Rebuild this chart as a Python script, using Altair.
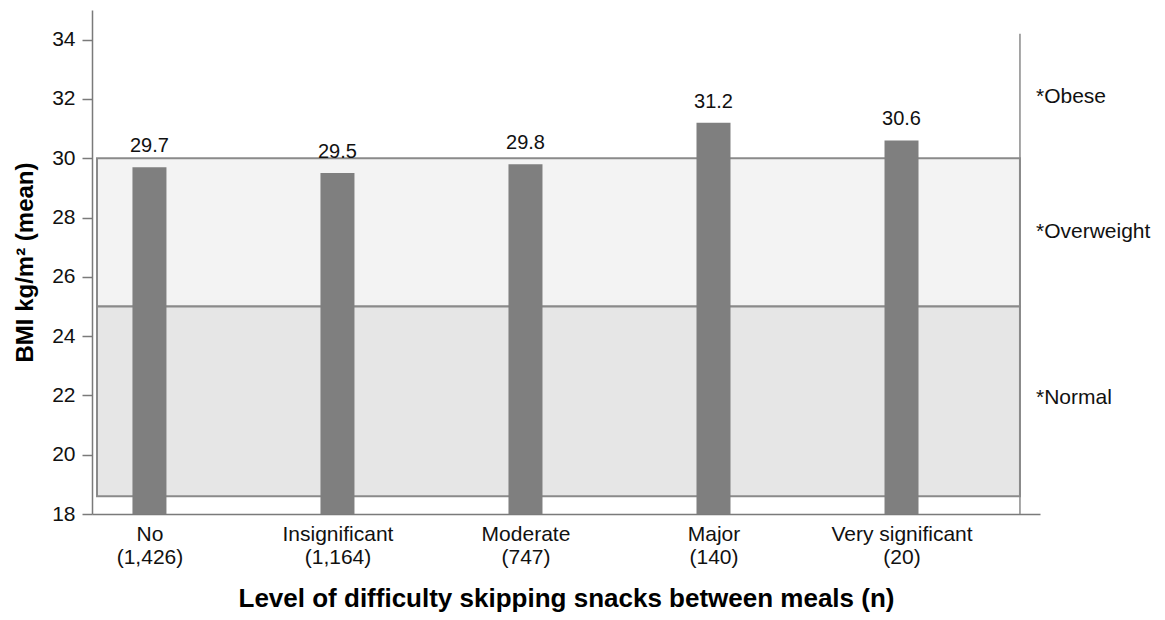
import altair as alt
import pandas as pd

# ---- data ----
categories = ["No", "Insignificant", "Moderate", "Major", "Very significant"]
counts = ["(1,426)", "(1,164)", "(747)", "(140)", "(20)"]
bmi_mean = [29.7, 29.5, 29.8, 31.2, 30.6]

zone_names = ["Overweight", "Normal"]
zone_low = [25.0, 18.6]
zone_high = [30.0, 25.0]
zone_fill = ["#f3f3f3", "#e6e6e6"]

side_labels = ["*Obese", "*Overweight", "*Normal"]
side_label_y = [32.05, 27.5, 21.9]

y_ticks = [18, 20, 22, 24, 26, 28, 30, 32, 34]

# ---- scale settings ----
Y_MIN, Y_MAX = 18, 35
X_MIN, X_MAX = -0.279, 4.71
BOX_RIGHT = 4.63
BOX_TOP = 34.2
FONT = "Liberation Sans"

bars = pd.DataFrame({
    "idx": list(range(len(categories))),
    "category": categories,
    "bmi": bmi_mean,
    "base": [Y_MIN] * len(categories),
})
zones = pd.DataFrame({
    "zone": zone_names, "low": zone_low, "high": zone_high, "fill": zone_fill,
    "x1": [X_MIN] * len(zone_names), "x2": [BOX_RIGHT] * len(zone_names),
})
side = pd.DataFrame({"label": side_labels, "y": side_label_y, "x": [X_MAX] * len(side_labels)})
box_edge = pd.DataFrame({"x": [BOX_RIGHT], "y1": [Y_MIN], "y2": [BOX_TOP]})

label_expr = " : ".join(
    f"datum.value == {i} ? ['{c}', '{n}']" for i, (c, n) in enumerate(zip(categories, counts))
) + " : ''"

x_scale = alt.Scale(domain=[X_MIN, X_MAX], nice=False, zero=False)
y_scale = alt.Scale(domain=[Y_MIN, Y_MAX], nice=False, zero=False)

x_axis = alt.Axis(
    values=list(range(len(categories))), labelExpr=label_expr, ticks=False, grid=False,
    domainColor="#7a7a7a", domainWidth=1.5, labelFont=FONT, labelFontSize=21,
    labelColor="#111111", labelPadding=9, labelLineHeight=23,
    title="Level of difficulty skipping snacks between meals (n)",
    titleFont=FONT, titleFontSize=26, titleFontWeight="bold", titleColor="#000000",
    titlePadding=18,
)
y_axis = alt.Axis(
    values=y_ticks, grid=False, domainColor="#7a7a7a", domainWidth=1.5,
    tickColor="#7a7a7a", tickSize=10, tickWidth=1.5, labelFont=FONT, labelFontSize=21,
    labelColor="#111111", labelPadding=7, title="BMI kg/m² (mean)", titleFont=FONT,
    titleFontSize=24, titleFontWeight="bold", titleColor="#000000", titlePadding=14,
)

zone_layer = alt.Chart(zones).mark_rect(stroke="#8a8a8a", strokeWidth=2).encode(
    x=alt.X("x1:Q", scale=x_scale, axis=x_axis),
    x2="x2:Q",
    y=alt.Y("low:Q", scale=y_scale, axis=y_axis),
    y2="high:Q",
    fill=alt.Fill("fill:N", scale=None),
)

edge_layer = alt.Chart(box_edge).mark_rule(color="#8a8a8a", strokeWidth=1.5).encode(
    x="x:Q", y="y1:Q", y2="y2:Q"
)

bar_layer = alt.Chart(bars).mark_bar(size=34, color="#7f7f7f").encode(
    x="idx:Q", y="bmi:Q", y2="base:Q"
)

value_layer = alt.Chart(bars).mark_text(
    baseline="bottom", dy=-11, font=FONT, fontSize=20, color="#111111"
).encode(x="idx:Q", y="bmi:Q", text=alt.Text("bmi:Q", format=".1f"))

side_layer = alt.Chart(side).mark_text(
    align="left", baseline="middle", dx=1, font=FONT, fontSize=21, color="#111111"
).encode(x="x:Q", y="y:Q", text="label:N")

chart = alt.layer(zone_layer, edge_layer, bar_layer, value_layer, side_layer).properties(
    width=948, height=504,
    autosize=alt.AutoSizeParams(type="none"),
    padding={"left": 84, "top": 2, "right": 117, "bottom": 98},
    background="white",
).configure_view(stroke=None)

chart.save("out.html", embed_options={"renderer": "svg", "actions": False})
